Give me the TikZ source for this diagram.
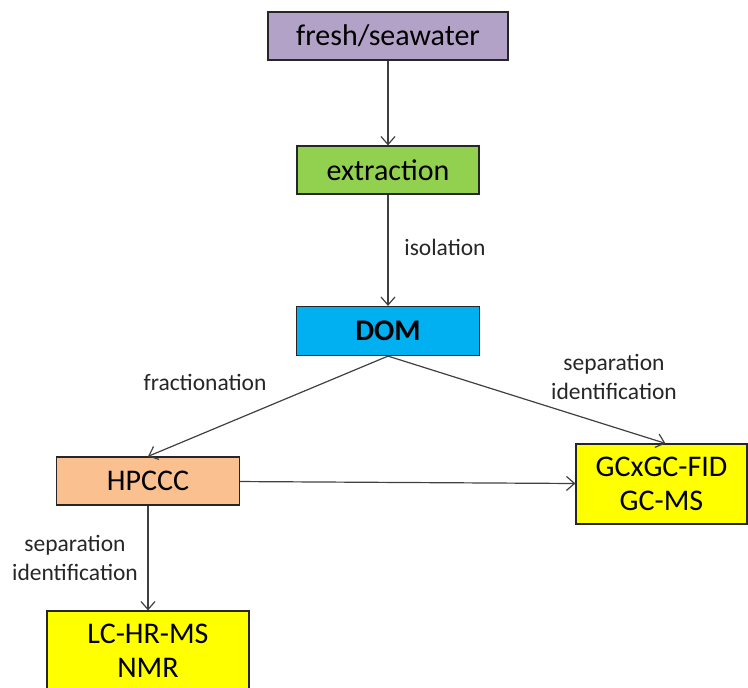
\documentclass[tikz,border=0pt]{standalone}
\usepackage{fontspec}
\setmainfont{Carlito}
\usetikzlibrary{arrows.meta}

\definecolor{boxpurple}{HTML}{B3A2C7}
\definecolor{boxgreen}{HTML}{92D050}
\definecolor{boxblue}{HTML}{00B0F0}
\definecolor{boxsalmon}{HTML}{FAC090}
\definecolor{boxyellow}{HTML}{FFFF00}
\definecolor{linegray}{HTML}{404040}

\tikzset{
  stepbox/.style={draw=black!85, line width=1.2pt, minimum height=48pt,
                  inner sep=0pt, font=\fontsize{30}{34}\selectfont},
  resultbox/.style={stepbox, fill=boxyellow, minimum height=80pt,
                    align=center, font=\fontsize{30}{34.5}\selectfont},
  flow/.style={draw=linegray, line width=1.2pt,
               -{Straight Barb[length=8pt,width=14pt]}},
  steplabel/.style={text=black!85, align=center, inner sep=0pt,
                    font=\fontsize{23.5}{29}\selectfont},
}

\begin{document}
\begin{tikzpicture}[x=1pt,y=-1pt]
            \useasboundingbox (0,0) rectangle (748,688);

            \node[stepbox, fill=boxpurple, minimum width=240pt] (water)  at (388,36)  {fresh/seawater};
            \node[stepbox, fill=boxgreen,  minimum width=182pt] (extr)   at (388,170) {extraction};
            \node[stepbox, fill=boxblue,   minimum width=183pt, minimum height=49pt,
                  font=\fontsize{30}{34}\selectfont\bfseries]   (dom)    at (388,331) {DOM};
            \node[stepbox, fill=boxsalmon, minimum width=183pt] (hpccc)  at (148,481) {HPCCC};
            \node[resultbox, minimum width=171pt] (gcgc) at (661.5,484) {GCxGC-FID\\GC-MS};
            \node[resultbox, minimum width=202pt] (lcms) at (148,651)   {LC-HR-MS\\NMR};

            \draw[flow] (water) -- (extr);
            \draw[flow] (extr)  -- (dom);
            \draw[flow] (dom.south) -- (hpccc.north);
            \draw[flow] (dom.south) -- ([xshift=4pt]gcgc.north);
            \draw[flow] (hpccc) -- (gcgc);
            \draw[flow] (hpccc) -- (lcms);

            \node[steplabel] (isol)  at (445,247) {isolation};
            \node[steplabel] (fract) at (205,382) {fractionation};
            \node[steplabel] (sepr)  at (614,377) {separation\\identification};
            \node[steplabel] (sepl)  at (75,558)  {separation\\identification};
        \end{tikzpicture}
\end{document}
